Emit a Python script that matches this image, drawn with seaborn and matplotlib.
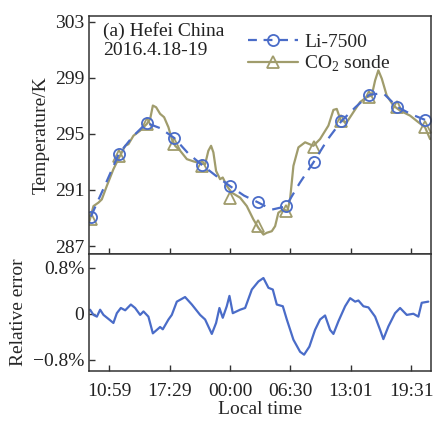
import numpy as np
import pandas as pd
import matplotlib.pyplot as plt
import seaborn as sns
from matplotlib.lines import Line2D

# hours since 00:00 on 2016-04-18
li_hours = [9, 10.5, 12, 13.5, 15, 16.5, 18, 19.5, 21, 22.5, 24, 25.5, 27,
            28.5, 30, 31.5, 33, 34.5, 36, 37.5, 39, 40.5, 42, 43.5, 45]
li_temp = [289.1, 291.3, 293.56, 294.8, 295.78, 295.4, 294.7, 293.6, 292.77,
           292.0, 291.27, 290.6, 290.12, 289.6, 289.83, 291.5, 292.99, 294.6,
           295.92, 296.9, 297.79, 297.9, 296.93, 296.4, 296.0]

sonde_hours = [8.85, 9.28, 9.82, 10.18, 10.72, 11.43, 12.05, 12.7, 13.05, 13.59,
               14.31, 15.03, 15.39, 15.68, 16.03, 16.46, 16.89, 17.36, 17.72,
               18.08, 18.62, 19.34, 20.05, 20.77, 21.31, 21.66, 21.95, 22.2,
               22.49, 22.92, 23.21, 23.65, 24.18, 25.08, 25.8, 26.51, 27.05,
               27.59, 27.95, 28.49, 28.85, 29.2, 29.74, 30.17, 30.46, 30.82,
               31.36, 32.08, 32.97, 33.69, 34.59, 35.13, 35.49, 35.92, 36.57,
               37.28, 38.0, 38.72, 39.26, 39.62, 39.97, 40.34, 40.87, 41.59,
               42.31, 43.39, 44.28, 45.0, 45.54]
sonde_temp = [288.78, 289.85, 290.1, 290.33, 291.29, 292.48, 293.32, 294.15,
              294.27, 294.87, 295.23, 295.71, 296.07, 297.02, 296.9, 296.43,
              296.19, 295.47, 294.63, 294.15, 293.8, 293.2, 293.04, 292.91,
              292.84, 293.8, 294.15, 293.68, 292.36, 291.77, 291.89, 291.29,
              290.81, 290.45, 289.85, 288.9, 288.3, 287.82, 287.95, 288.06,
              288.42, 289.38, 289.62, 289.49, 290.33, 292.72, 294.04, 294.4,
              294.15, 294.63, 295.59, 296.71, 296.78, 295.95, 295.83, 296.55,
              297.27, 297.62, 297.74, 298.81, 299.53, 298.94, 297.74, 297.02,
              296.66, 296.3, 295.83, 295.47, 294.63]

mark_hours = [9, 12, 15, 18, 21, 24, 27, 30, 33, 36, 39, 42, 45]
sonde_mark_temp = [288.9, 293.4, 295.7, 294.3, 292.7, 290.4, 288.4, 289.5,
                   294.1, 295.9, 297.6, 296.9, 295.5]

err_hours = [8.92, 9.28, 9.65, 10.0, 10.36, 10.9, 11.43, 11.8, 12.23, 12.7,
             13.31, 13.77, 14.31, 14.67, 15.2, 15.68, 16.11, 16.46, 16.75,
             17.36, 17.72, 18.26, 19.15, 19.88, 20.77, 21.31, 22.03, 22.49,
             22.85, 23.21, 23.64, 23.93, 24.29, 25.08, 25.62, 26.34, 27.05,
             27.59, 28.13, 28.6, 29.03, 29.68, 30.11, 30.82, 31.54, 31.97,
             32.54, 33.15, 33.69, 34.23, 34.77, 35.13, 35.67, 36.39, 36.93,
             37.47, 37.82, 38.36, 38.9, 39.62, 40.16, 40.51, 41.05, 41.77,
             42.31, 43.03, 43.74, 44.28, 44.64, 45.35]
err_pct = [0.07, -0.02, -0.05, 0.07, -0.02, -0.09, -0.16, 0.01, 0.10, 0.06,
           0.16, 0.10, -0.02, 0.04, -0.05, -0.34, -0.28, -0.23, -0.27, -0.10,
           -0.02, 0.21, 0.29, 0.16, -0.02, -0.10, -0.35, -0.16, 0.10, -0.07,
           0.13, 0.31, 0.01, 0.07, 0.10, 0.42, 0.56, 0.62, 0.45, 0.42, 0.16,
           0.13, -0.10, -0.45, -0.66, -0.71, -0.57, -0.28, -0.10, -0.03, -0.28,
           -0.35, -0.13, 0.13, 0.27, 0.21, 0.23, 0.13, 0.11, -0.05, -0.28,
           -0.44, -0.22, 0.01, 0.10, -0.02, 0.00, -0.05, 0.19, 0.21]

tick_hours = [10.98, 17.48, 24.0, 30.5, 37.02, 43.52]
tick_labels = ['10:59', '17:29', '00:00', '06:30', '13:01', '19:31']

sns.set_theme(style="ticks")
plt.rcParams['font.family'] = ['Liberation Serif', 'DejaVu Serif']
plt.rcParams['mathtext.fontset'] = 'custom'
plt.rcParams['mathtext.rm'] = 'Liberation Serif'

blue = '#4a6cc8'
olive = '#a09c6c'

fig = plt.figure(figsize=(4.35, 4.23), dpi=100)
ax1 = fig.add_axes([0.205, 0.400, 0.786, 0.562])
ax2 = fig.add_axes([0.205, 0.122, 0.786, 0.278])

sns.lineplot(x=sonde_hours, y=sonde_temp, ax=ax1, color=olive, linewidth=1.6)
sns.lineplot(x=mark_hours, y=sonde_mark_temp, ax=ax1, color=olive, linestyle='',
             marker='^', markersize=8, markerfacecolor='none',
             markeredgecolor=olive, markeredgewidth=1.3)
sns.lineplot(x=li_hours, y=li_temp, ax=ax1, color=blue, linewidth=1.6,
             linestyle=(0, (5, 3.5)), marker='o', markevery=2, markersize=8,
             markerfacecolor='none', markeredgecolor=blue, markeredgewidth=1.3)

ax1.set_xlim(8.82, 45.65)
ax1.set_ylim(286.45, 303.4)
ax1.set_yticks([287, 291, 295, 299, 303])
ax1.set_xticks(tick_hours)
ax1.set_xticklabels([])
ax1.set_ylabel('Temperature/K', fontsize=14, labelpad=4)
ax1.tick_params(direction='in', labelsize=14, length=4, width=1, colors='#333333',
                labelcolor='#222222')
ax1.text(0.04, 0.975, '(a) Hefei China\n2016.4.18-19', transform=ax1.transAxes,
         ha='left', va='top', fontsize=14, color='#222222', linespacing=1.15)

handles = [
    Line2D([], [], color=blue, linestyle=(0, (4, 3)), linewidth=1.6, marker='o',
           markersize=8, markerfacecolor='none', markeredgewidth=1.3),
    Line2D([], [], color=olive, linewidth=1.6, marker='^', markersize=8,
           markerfacecolor='none', markeredgewidth=1.3),
]
ax1.legend(handles, ['Li-7500', r'CO$_\mathregular{2}$ sonde'], loc='upper left',
           bbox_to_anchor=(0.43, 0.975), frameon=False, fontsize=14,
           handlelength=2.6, handletextpad=0.3, labelspacing=0.12,
           borderaxespad=0.2)

sns.lineplot(x=err_hours, y=err_pct, ax=ax2, color=blue, linewidth=1.6)
ax2.set_xlim(8.82, 45.65)
ax2.set_ylim(-1.0, 1.04)
ax2.set_yticks([-0.8, 0, 0.8])
ax2.set_yticklabels(['\u22120.8%', '0', '0.8%'])
ax2.set_xticks(tick_hours)
ax2.set_xticklabels(tick_labels)
ax2.set_ylabel('Relative error', fontsize=14, labelpad=4)
ax2.set_xlabel('Local time', fontsize=14, labelpad=1)
ax2.tick_params(direction='in', labelsize=14, length=4, width=1, colors='#333333',
                labelcolor='#222222')
ax2.tick_params(axis='x', pad=8)

for ax in (ax1, ax2):
    for s in ax.spines.values():
        s.set_visible(True)
        s.set_color('#333333')
        s.set_linewidth(1.1)

fig.savefig('out.png', dpi=100)
